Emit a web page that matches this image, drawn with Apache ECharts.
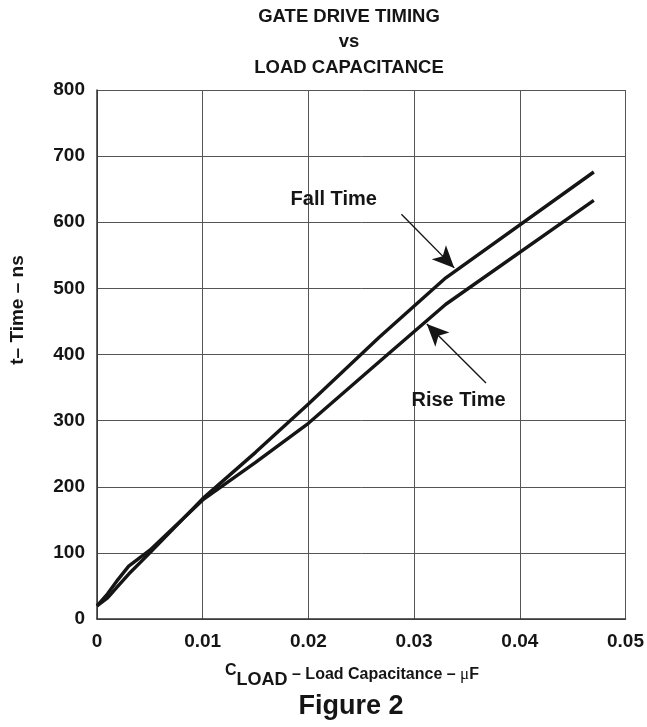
<!DOCTYPE html>
<html>
<head>
<meta charset="utf-8">
<script src="https://cdn.jsdelivr.net/npm/echarts@6/dist/echarts.min.js"></script>
<style>
html,body{margin:0;padding:0;background:#fff;}
#c{width:647px;height:727px;}
</style>
</head>
<body>
<div id="c"></div>
<script>
// ---- data ----
var titleLines = ['GATE DRIVE TIMING', 'vs', 'LOAD CAPACITANCE'];
var xTicks = [0, 0.01, 0.02, 0.03, 0.04, 0.05];
var yTicks = [0, 100, 200, 300, 400, 500, 600, 700, 800];
var fallX = [0, 0.001, 0.002, 0.003, 0.005, 0.01, 0.015, 0.02, 0.0267, 0.033, 0.047];
var fallY = [20, 32, 50, 68, 100, 182, 252, 325, 426, 516, 676];
var riseX = [0, 0.001, 0.002, 0.003, 0.005, 0.01, 0.015, 0.02, 0.0267, 0.033, 0.047];
var riseY = [20, 38, 60, 80, 104, 180, 237, 296, 389, 476, 633];
var fallLabel = 'Fall Time';
var riseLabel = 'Rise Time';
// annotation anchors (data coords)
var fallText = [0.0224, 634];
var fallArrow = [[0.0288, 612], [0.0338, 531]];
var riseText = [0.0342, 331];
var riseArrow = [[0.0368, 357], [0.0312, 446]];

function pairs(xs, ys){ return xs.map(function(x,i){ return [x, ys[i]]; }); }

var FONT = 'Liberation Sans';
var chart = echarts.init(document.getElementById('c'), null, {renderer:'canvas'});
var curveStyle = {color:'#151515', width:3.4};

var option = {
  backgroundColor:'#ffffff',
  animation:false,
  grid:{left:97, right:20, top:90, bottom:108, containLabel:false},
  xAxis:{
    type:'value', min:xTicks[0], max:xTicks[xTicks.length-1], interval:0.01,
    axisLine:{show:true, onZero:false, lineStyle:{color:'#333', width:1.5}},
    axisTick:{show:false},
    splitLine:{show:true, lineStyle:{color:'#555', width:1}},
    axisLabel:{margin:13, fontFamily:FONT, fontWeight:'bold', fontSize:19, color:'#151515',
      formatter:function(v){ return v===0 ? '0' : v.toFixed(2); }}
  },
  yAxis:{
    type:'value', min:yTicks[0], max:yTicks[yTicks.length-1], interval:100,
    axisLine:{show:true, lineStyle:{color:'#333', width:1.5}},
    axisTick:{show:false},
    splitLine:{show:true, lineStyle:{color:'#555', width:1}},
    axisLabel:{margin:12, fontFamily:FONT, fontWeight:'bold', fontSize:19, color:'#151515'}
  },
  series:[
    {type:'line', name:fallLabel, data:pairs(fallX, fallY), showSymbol:false, symbol:'none',
     lineStyle:curveStyle, z:3,
     markLine:{silent:true, symbol:['none','arrow'], symbolSize:[15,22], label:{show:false},
       lineStyle:{color:'#151515', width:1.4, type:'solid'},
       data:[[{coord:fallArrow[0]},{coord:fallArrow[1]}]]}},
    {type:'line', name:riseLabel, data:pairs(riseX, riseY), showSymbol:false, symbol:'none',
     lineStyle:curveStyle, z:3,
     markLine:{silent:true, symbol:['none','arrow'], symbolSize:[15,22], label:{show:false},
       lineStyle:{color:'#151515', width:1.4, type:'solid'},
       data:[[{coord:riseArrow[0]},{coord:riseArrow[1]}]]}}
  ]
};
chart.setOption(option);

var fp = chart.convertToPixel({gridIndex:0}, fallText);
var rp = chart.convertToPixel({gridIndex:0}, riseText);
var txt = function(x,y,s,size){
  return {type:'text', z:10, style:{text:s, x:x, y:y, fill:'#151515',
    font:'bold '+size+'px "'+FONT+'"', align:'center', verticalAlign:'middle'}};
};
chart.setOption({
  graphic:[
    txt(349, 17, titleLines[0], 18.5),
    txt(349, 42, titleLines[1], 18.5),
    txt(349, 68, titleLines[2], 18.5),
    txt(fp[0], fp[1], fallLabel, 20),
    txt(rp[0], rp[1], riseLabel, 20),
    {type:'text', x:18, y:310, rotation:Math.PI/2, z:10,
     style:{text:'t– Time – ns', fill:'#151515', font:'bold 19px "'+FONT+'"', align:'center', verticalAlign:'middle'}},
    {type:'text', x:352, y:675, z:10,
     style:{text:'{c|C}{s|LOAD}{t| – Load Capacitance – }{m|μ}{t|F}', align:'center', verticalAlign:'middle',
       rich:{
         c:{fontFamily:FONT, fontWeight:'bold', fontSize:16, fill:'#151515', lineHeight:30, verticalAlign:'top', padding:[3,0,0,0]},
         s:{fontFamily:FONT, fontWeight:'bold', fontSize:18, fill:'#151515', lineHeight:30, verticalAlign:'bottom', padding:[0,0,1,0]},
         t:{fontFamily:FONT, fontWeight:'bold', fontSize:16, fill:'#151515', lineHeight:30, verticalAlign:'middle'},
         m:{fontFamily:'Liberation Serif', fontWeight:'normal', fontSize:17, fill:'#151515', lineHeight:30, verticalAlign:'middle'}
       }}},
    txt(351, 707, 'Figure 2', 27)
  ]
});
</script>
</body>
</html>
